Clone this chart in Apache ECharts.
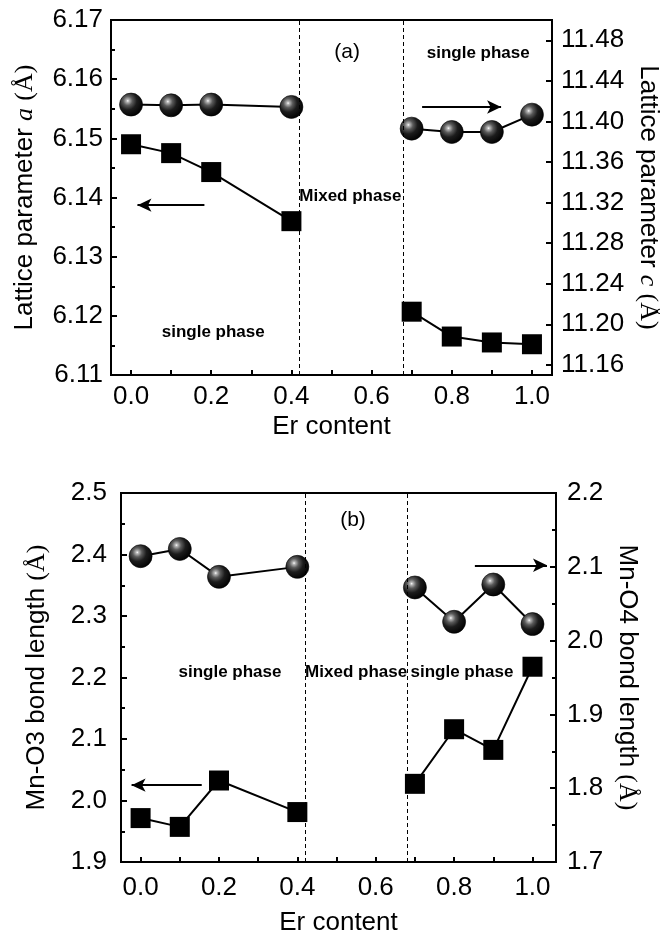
<!DOCTYPE html>
<html>
<head>
<meta charset="utf-8">
<script src="https://cdn.jsdelivr.net/npm/echarts@6/dist/echarts.min.js"></script>
<style>html,body{margin:0;padding:0;background:#fff}#c{width:660px;height:939px}</style>
</head>
<body>
<div id="c"></div>
<script>
// ---------- data ----------
// Panel (a)
const aSquaresLow  = [[0.0, 6.1490], [0.1, 6.1475], [0.2, 6.1443], [0.4, 6.1360]];
const aSquaresHigh = [[0.7, 6.1207], [0.8, 6.1165], [0.9, 6.1155], [1.0, 6.1152]];
const cCirclesLow  = [[0.0, 11.4166], [0.1, 11.4159], [0.2, 11.4166], [0.4, 11.4143]];
const cCirclesHigh = [[0.7, 11.3929], [0.8, 11.3896], [0.9, 11.3896], [1.0, 11.4067]];
// Panel (b)
const o3SquaresLow  = [[0.0, 1.9714], [0.1, 1.9571], [0.2, 2.0325], [0.4, 1.9812]];
const o3SquaresHigh = [[0.7, 2.0271], [0.8, 2.1159], [0.9, 2.0823], [1.0, 2.2175]];
const o4CirclesLow  = [[0.0, 2.1144], [0.1, 2.1242], [0.2, 2.0864], [0.4, 2.0999]];
const o4CirclesHigh = [[0.7, 2.0720], [0.8, 2.0255], [0.9, 2.0760], [1.0, 2.0224]];
// phase boundaries
const boundariesA = [0.416, 0.682];
const boundariesB = [0.4235, 0.6786];
// ticks
const xLabelTicks = [0.0, 0.2, 0.4, 0.6, 0.8, 1.0];
const xAllTicks = [0.0, 0.1, 0.2, 0.3, 0.4, 0.5, 0.6, 0.7, 0.8, 0.9, 1.0];
const cTicks = [11.16, 11.20, 11.24, 11.28, 11.32, 11.36, 11.40, 11.44, 11.48];

// ---------- styles ----------
const FONT = 'Liberation Sans';
const sphere = {
  type: 'radial', x: 0.36, y: 0.34, r: 0.7,
  colorStops: [
    {offset: 0, color: '#ffffff'},
    {offset: 0.08, color: '#b8b8b8'},
    {offset: 0.28, color: '#5a5a5a'},
    {offset: 0.55, color: '#1c1c1c'},
    {offset: 1, color: '#000000'}
  ]
};
const axisLine = {show: true, onZero: false, lineStyle: {color: '#000', width: 2}};
const tickLab = {color: '#000', fontSize: 26, fontFamily: FONT, margin: 8};
const nameStyle = {
  color: '#000', fontSize: 26, fontFamily: FONT,
  rich: {
    it: {fontStyle: 'italic', fontFamily: 'Liberation Serif', fontSize: 26, color: '#000'},
    u: {fontFamily: 'Liberation Serif', fontSize: 26, color: '#000'}
  }
};

function xAxisCfg(grid, max, gap, margin) {
  return {
    type: 'value', gridIndex: grid, min: -0.05, max: max,
    axisLine: axisLine,
    axisTick: {show: true, inside: true, length: 5, customValues: xAllTicks, lineStyle: {color: '#000', width: 2}},
    axisLabel: Object.assign({}, tickLab, {margin: margin, customValues: xLabelTicks, formatter: v => v.toFixed(1)}),
    splitLine: {show: false},
    name: 'Er content', nameLocation: 'middle', nameGap: gap, nameTextStyle: nameStyle
  };
}
function yAxisCfg(o) {
  const cfg = {
    type: 'value', gridIndex: o.grid, position: o.pos, min: o.min, max: o.max,
    axisLine: axisLine,
    axisTick: {show: true, inside: true, length: 6, lineStyle: {color: '#000', width: 2}},
    axisLabel: Object.assign({}, tickLab, {margin: o.margin, formatter: v => v.toFixed(o.dec)}),
    splitLine: {show: false},
    name: o.name, nameLocation: 'middle', nameGap: o.gap, nameTextStyle: nameStyle
  };
  if (o.interval) {
    cfg.interval = o.interval;
    cfg.minorTick = {show: true, splitNumber: 2, length: 4, lineStyle: {color: '#000', width: 2}};
  }
  if (o.custom) {
    cfg.axisTick.customValues = o.custom;
    cfg.axisLabel.customValues = o.custom;
  }
  if (o.rotate) cfg.nameRotate = o.rotate;
  return cfg;
}

function lineSeries(data, xi, yi, kind) {
  return {
    type: 'line', xAxisIndex: xi, yAxisIndex: yi, data: data,
    lineStyle: {color: '#000', width: 2},
    symbolSize: kind === 'circle' ? 23 : 20,
    symbol: kind === 'circle' ? 'circle' : 'rect',
    itemStyle: kind === 'circle' ? {color: sphere, borderColor: '#000', borderWidth: 0.6} : {color: '#000'},
    z: 3
  };
}
function txt(coord, text, bold, size) {
  return {
    coord: coord, symbol: 'circle', symbolSize: 1, itemStyle: {color: 'rgba(0,0,0,0)'},
    label: {show: true, position: 'inside', formatter: text, color: '#000',
      fontFamily: FONT, fontSize: size, fontWeight: bold ? 'bold' : 'normal'}
  };
}
const arrowML = (pairs) => ({
  silent: true, symbol: ['none', 'arrow'], symbolSize: [10, 14],
  lineStyle: {color: '#000', width: 2, type: 'solid'},
  label: {show: false},
  data: pairs.map(p => [{coord: p[0]}, {coord: p[1]}])
});
const dashML = (xs) => ({
  silent: true, symbol: ['none', 'none'],
  lineStyle: {color: '#000', width: 1, type: [4, 3]},
  label: {show: false},
  data: xs.map(v => ({xAxis: v}))
});

const s0 = lineSeries(aSquaresLow, 0, 0, 'rect');
s0.markLine = dashML(boundariesA);
const s0b = lineSeries(aSquaresHigh, 0, 0, 'rect');
s0b.markLine = arrowML([[[0.183, 6.1387], [0.016, 6.1387]], [[0.726, 6.1553], [0.923, 6.1553]]]);
s0b.markPoint = {
  silent: true,
  data: [
    txt([0.539, 6.1646], '(a)', false, 21),
    txt([0.866, 6.1644], 'single phase', true, 17),
    txt([0.547, 6.1402], 'Mixed phase', true, 17),
    txt([0.205, 6.1172], 'single phase', true, 17)
  ]
};
const s1 = lineSeries(o3SquaresLow, 1, 2, 'rect');
s1.markLine = dashML(boundariesB);
const s1b = lineSeries(o3SquaresHigh, 1, 2, 'rect');
s1b.markLine = arrowML([[[0.156, 2.025], [-0.023, 2.025]], [[0.853, 2.3825], [1.037, 2.3825]]]);
s1b.markPoint = {
  silent: true,
  data: [
    txt([0.542, 2.4556], '(b)', false, 21),
    txt([0.228, 2.2082], 'single phase', true, 17),
    txt([0.55, 2.2082], 'Mixed phase', true, 17),
    txt([0.82, 2.2082], 'single phase', true, 17)
  ]
};

const option = {
  animation: false,
  backgroundColor: '#fff',
  grid: [
    {left: 111, right: 108, top: 20, height: 355, show: true, borderColor: '#000', borderWidth: 2,
      containLabel: false, outerBoundsMode: 'none'},
    {left: 121, right: 104, top: 493, height: 369, show: true, borderColor: '#000', borderWidth: 2,
      containLabel: false, outerBoundsMode: 'none'}
  ],
  xAxis: [xAxisCfg(0, 1.05, 39, 9), xAxisCfg(1, 1.06, 48, 13)],
  yAxis: [
    yAxisCfg({grid: 0, pos: 'left', min: 6.11, max: 6.17, interval: 0.01, dec: 2, gap: 73, margin: 8,
      name: 'Lattice parameter {it|a} {u|(Å)}'}),
    yAxisCfg({grid: 0, pos: 'right', min: 11.15, max: 11.50, custom: cTicks, dec: 2, gap: 73, rotate: -90, margin: 9,
      name: 'Lattice parameter {it|c} {u|(Å)}'}),
    yAxisCfg({grid: 1, pos: 'left', min: 1.9, max: 2.5, interval: 0.1, dec: 1, gap: 71, margin: 14,
      name: 'Mn-O3 bond length {u|(Å)}'}),
    yAxisCfg({grid: 1, pos: 'right', min: 1.7, max: 2.2, interval: 0.1, dec: 1, gap: 54, rotate: -90, margin: 11,
      name: 'Mn-O4 bond length {u|(Å)}'})
  ],
  series: [
    s0, s0b,
    lineSeries(cCirclesLow, 0, 1, 'circle'),
    lineSeries(cCirclesHigh, 0, 1, 'circle'),
    s1, s1b,
    lineSeries(o4CirclesLow, 1, 3, 'circle'),
    lineSeries(o4CirclesHigh, 1, 3, 'circle')
  ]
};
const chart = echarts.init(document.getElementById('c'), null, {renderer: 'canvas'});
chart.setOption(option);
</script>
</body>
</html>
